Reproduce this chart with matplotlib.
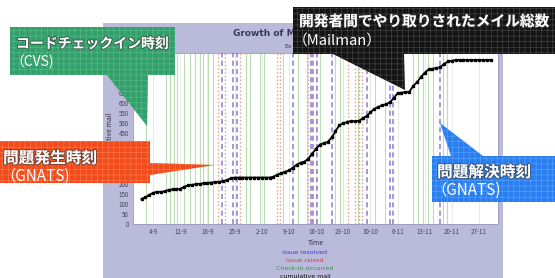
import numpy as np
import matplotlib.pyplot as plt
from matplotlib.patches import Polygon, Rectangle
import matplotlib.patheffects as pe

plt.rcParams['font.family'] = ['Noto Sans CJK JP', 'DejaVu Sans']
plt.rcParams['hatch.linewidth'] = 0.4

# cumulative mail, one value per day (day 0 = 4-9)
mail_start = -3
mail = [125, 132, 145, 155, 160, 160, 162, 170, 172, 172,
        175, 185, 192, 195, 198, 200, 202, 205, 206, 208,
        210, 212, 218, 228, 231, 231, 231, 231, 231, 231,
        231, 231, 231, 231, 235, 245, 252, 260, 266, 280,
        295, 305, 310, 325, 350, 375, 395, 402, 408, 430,
        460, 492, 500, 508, 511, 511, 513, 525, 536, 555,
        572, 582, 590, 595, 605, 625, 650, 653, 655, 657,
        685, 705, 730, 752, 768, 772, 775, 780, 795, 808,
        812, 815, 815, 815, 815, 815, 815, 815, 815, 815, 815]

# event times (days after 4-9)
checkin = [-1.8, 3.4, 4.4, 5.4, 6.2, 8.0, 9.5, 10.8, 12.1, 12.9, 14.2, 15.5,
           24.0, 25.0, 27.5, 28.5, 33.5, 37.4, 39.7, 43.0, 46.9, 48.2, 49.0,
           52.8, 55.9, 57.2, 59.8, 67.0, 68.3, 69.6, 70.9, 72.2, 74.7, 75.8]
raised = [16.8, 18.6, 22.4, 32.0, 32.7, 39.9, 50.3, 52.1, 53.1, 53.9]
resolved = [17.8, 20.6, 21.6, 36.1, 40.7, 41.2, 42.3, 46.1, 55.2, 61.1, 61.9, 74.0]

tick_labels = ['4-9', '11-9', '18-9', '25-9', '2-10', '9-10', '16-10',
               '23-10', '30-10', '6-11', '13-11', '20-11', '27-11']

W, H = 555, 278
fig = plt.figure(figsize=(W / 100, H / 100), dpi=100)
fig.patch.set_facecolor('white')

# lavender chart panel (behind everything)
bg = fig.add_axes([0, 0, 1, 1], zorder=-5)
bg.set_xlim(0, W)
bg.set_ylim(H, 0)
bg.axis('off')
bg.add_patch(Rectangle((103, 23), 400, 260, facecolor='#babadb', edgecolor='none'))

ax = fig.add_axes([133 / W, 1 - 224 / H, 365 / W, 171 / H], zorder=1)
ax.set_facecolor('white')

for d in checkin:
    ax.axvline(d, color='#bcdcb4', lw=0.8, zorder=1)
for d in raised:
    ax.axvline(d, color='#e89a84', lw=1.0, ls=':', zorder=2)
for d in resolved:
    ax.axvline(d, color='#8070c8', lw=1.2, ls=(0, (3, 2)), alpha=0.85, zorder=3)

x = np.arange(len(mail)) + mail_start
ax.plot(x, mail, color='black', lw=1.3, marker='s', ms=2.0, zorder=4)

ax.set_xlim(-5.2, 88.9)
ax.set_ylim(0, 850)
ax.set_xticks(np.arange(len(tick_labels)) * 7)
ax.set_xticklabels(tick_labels)
ax.set_yticks(np.arange(0, 851, 50))
ax.tick_params(labelsize=4.5, length=0, pad=3, colors='#444455')
ax.grid(axis='x', color='#e6e6e6', lw=0.6)
for s in ax.spines.values():
    s.set_color('#9a9ab8')
    s.set_linewidth(0.6)
ax.set_xlabel('Time', fontsize=5, color='#333344', labelpad=2)
ax.set_ylabel('Cumulative mail', fontsize=5, color='#333344', labelpad=3)

fig.text(233 / W, 1 - 33 / H, 'Growth of Mail', fontsize=6.5,
         weight='bold', color='#3a3a55', va='center', family='DejaVu Sans')
fig.text(284 / W, 1 - 46 / H, 'Ex', fontsize=4.5, color='#3a3a55',
         va='center', family='DejaVu Sans')

legend_items = [('issue resolved', '#3a3ad0'), ('issue raised', '#d83a3a'),
                ('Check-in occurred', '#2f9a3a'), ('cumulative mail', '#111111')]
for i, (lab, col) in enumerate(legend_items):
    fig.text(305 / W, 1 - (252 + 8 * i) / H, lab, fontsize=4.5, color=col,
             ha='center', va='center', family='DejaVu Sans')

# callouts drawn over the chart in pixel space
ov = fig.add_axes([0, 0, 1, 1], zorder=10)
ov.set_xlim(0, W)
ov.set_ylim(H, 0)
ov.axis('off')
ov.patch.set_alpha(0)

callouts = [
    ([(10, 27), (175, 27), (175, 75), (148, 75), (147, 126), (107, 75), (10, 75)],
     '#33a06c', '#5cbc8a'),
    ([(0, 141), (150, 141), (150, 163), (215, 165), (150, 175), (150, 183), (0, 183)],
     '#f24c1c', '#ff7a4e'),
    ([(293, 7), (555, 7), (555, 54), (404, 54), (405, 90), (333, 54), (293, 54)],
     '#141414', '#4a4a4a'),
    ([(432, 156), (451, 156), (440, 123), (483, 156), (555, 156), (555, 202), (432, 202)],
     '#2a7ff0', '#5aa2ff'),
]
for pts, fc, hc in callouts:
    ov.add_patch(Polygon(pts, closed=True, facecolor=fc, edgecolor=hc,
                         lw=0, hatch='+++'))

shadow = [pe.withStroke(linewidth=1.5, foreground=(0.2, 0.2, 0.2, 0.6))]
texts = [
    (16, 44, 'コードチェックイン時刻', 10, True),
    (10, 62, '（CVS)', 10, False),
    (3, 158, '問題発生時刻', 11.3, True),
    (0, 176, '（GNATS)', 11, False),
    (299, 21, '開発者間でやり取りされたメイル総数', 10.6, True),
    (293, 42, '（Mailman）', 10.6, False),
    (437, 172, '問題解決時刻', 11.3, True),
    (431, 190, '（GNATS)', 11, False),
]
for tx, ty, s, fs, bold in texts:
    ov.text(tx, ty, s, fontsize=fs, color='white', va='center', ha='left',
            weight='bold' if bold else 'normal',
            path_effects=shadow if bold else None)

plt.savefig('out.png', dpi=100)
